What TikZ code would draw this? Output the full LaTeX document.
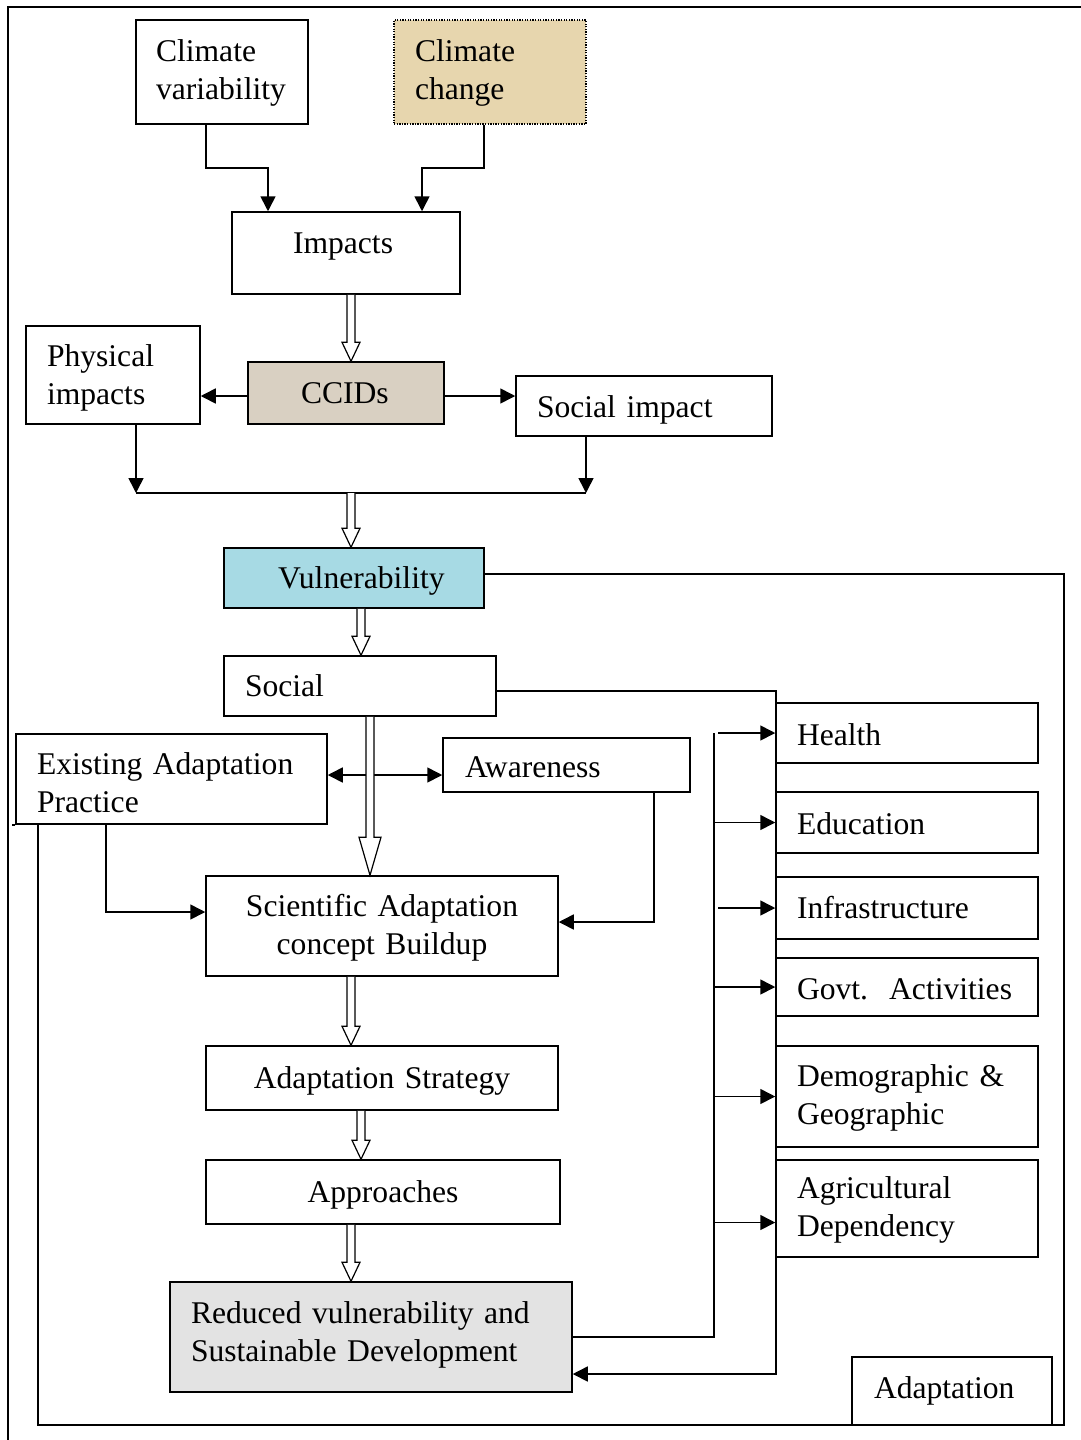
\documentclass[tikz,border=0pt]{standalone}
\usepackage{fontspec}
\setmainfont{Liberation Serif}
\usetikzlibrary{arrows.meta,calc}

\definecolor{changebeige}{HTML}{E7D6AE}
\definecolor{ccidtan}{HTML}{D9D0C2}
\definecolor{vulnblue}{HTML}{A7DAE4}
\definecolor{reducedgray}{HTML}{E3E3E3}

\tikzset{
  frameline/.style={line width=1.5pt},
  box/.style={draw, line width=1.5pt, rectangle, inner ysep=0pt, align=left},
  cbox/.style={draw, line width=1.5pt, rectangle, inner ysep=0pt, align=center},
  bx/.style n args={4}{minimum width=#1pt, minimum height=#2pt, inner xsep=#3pt, text width=#4pt},
  arr/.style={line width=1.6pt, -{Triangle[length=15pt,width=15pt]}},
  dblarr/.style={line width=1.6pt, {Triangle[length=15pt,width=15pt]}-{Triangle[length=15pt,width=15pt]}},
  hollowline/.style={draw, fill=white, line width=1.2pt, line join=miter}
}

% open block arrow pointing down: x, from, to, shaft half width, head half width, head length
\newcommand{\hollowarr}[6]{%
  \draw[hollowline] let \p1=(#2), \p2=(#3) in
    ({#1pt-#4pt},\y1) -- ({#1pt-#4pt},{\y2+#6pt}) -- ({#1pt-#5pt},{\y2+#6pt})
    -- (#1pt,\y2) -- ({#1pt+#5pt},{\y2+#6pt}) -- ({#1pt+#4pt},{\y2+#6pt})
    -- ({#1pt+#4pt},\y1);}

\begin{document}
\begin{tikzpicture}[x=1pt, y=-1pt, font=\fontsize{31.6}{37.5}\selectfont]
\useasboundingbox (0,0) rectangle (1081,1440);

% outer frame
\draw[line width=1.8pt] (8,1440) -- (8,7) -- (1081,7);

% top row
\node[box, bx={172}{104}{20}{132}, text height=24pt] (cv) at (222,72) {Climate\\variability};
\node[box, bx={192}{104}{21}{150}, text height=24pt, fill=changebeige, dash pattern=on 1.3pt off 1.3pt, line width=1.2pt] (cc) at (490,72) {Climate\\change};
\node[box, bx={228}{82}{61}{106}, text depth=20pt] (impacts) at (346,253) {Impacts};

\coordinate (cvA) at (206,168);
\coordinate (cvB) at (268,168);
\coordinate (ccA) at (484,168);
\coordinate (ccB) at (422,168);
\draw[arr] (cv.south -| cvA) -- (cvA) -- (cvB) -- (impacts.north -| cvB);
\draw[arr] (cc.south -| ccA) -- (ccA) -- (ccB) -- (impacts.north -| ccB);

% impacts split
\node[box, bx={196}{62}{53}{90}, fill=ccidtan] (ccids) at (346,393) {CCIDs};
\node[box, bx={174}{98}{21}{132}, text height=28pt] (phys) at (113,375) {Physical\\impacts};
\node[box, bx={256}{60}{21}{214}, text height=30pt] (socimp) at (644,406) {Social impact};

\hollowarr{351}{impacts.south}{ccids.north}{4}{9}{19}
\draw[arr] ([yshift=-3pt]ccids.west) -- ([yshift=-3pt]ccids.west -| phys.east);
\draw[arr] ([yshift=-3pt]ccids.east) -- ([yshift=-3pt]ccids.east -| socimp.west);

\coordinate (jL) at (136,493);
\coordinate (jR) at (586,493);
\draw[arr] (phys.south -| jL) -- (jL);
\draw[arr] (socimp.south -| jR) -- (jR);
\draw[frameline] (jL) -- (jR);

% vulnerability
\node[box, bx={260}{60}{30}{200}, text height=28pt, fill=vulnblue] (vuln) at (354,578) {\hspace*{24pt}Vulnerability};
\hollowarr{351}{jL}{vuln.north}{4}{9}{19}

\node[box, bx={272}{60}{21}{230}] (social) at (360,686) {Social};
\hollowarr{361}{vuln.south}{social.north}{4}{9}{19}

% adaptation frame around the lower part
\coordinate (frSE) at (1064,1425);
\coordinate (frNW) at (38,824);
\draw[frameline] ([yshift=4pt]vuln.east) -| (frSE) -| (frNW);

% social branch
\node[box, bx={311}{90}{21}{269}, text height=29pt] (exist) at (171.5,779) {Existing Adaptation\\Practice};
\node[box, bx={247}{54}{22}{203}, text height=25pt] (aware) at (566.5,765) {Awareness};
\node[cbox, bx={352}{100}{11}{330}, text height=26pt] (sci) at (382,926) {Scientific Adaptation\\concept Buildup};
\draw[frameline] (exist.south west) -- ++(-3,0);

\draw[dblarr] ([yshift=4pt]exist.east) -- ([yshift=4pt]exist.east -| aware.west);
\hollowarr{370}{social.south}{sci.north}{4}{11}{38}

\coordinate (exA) at (106,0);
\coordinate (awA) at (654,0);
\draw[arr] (exist.south -| exA) |- ([yshift=14pt]sci.west);
\draw[arr] (aware.south -| awA) |- ([yshift=4pt]sci.east);

% main chain
\node[cbox, bx={352}{64}{11}{330}, text height=28pt] (strat) at (382,1078) {Adaptation Strategy};
\node[cbox, bx={354}{64}{11}{332}, text height=28pt] (appr) at (383,1192) {Approaches};
\node[box, bx={402}{110}{21}{360}, text height=18pt, fill=reducedgray] (red) at (371,1337) {Reduced vulnerability and\\Sustainable Development};
\hollowarr{351}{sci.south}{strat.north}{4}{9}{19}
\hollowarr{361}{strat.south}{appr.north}{4}{9}{19}
\hollowarr{351}{appr.south}{red.north}{4}{9}{19}

% sectors column
\node[box, bx={262}{60}{21}{220}, text height=26pt] (health) at (907,733) {Health};
\node[box, bx={262}{61}{21}{220}, text height=24pt] (edu) at (907,822.5) {Education};
\node[box, bx={262}{62}{21}{220}] (infra) at (907,908) {Infrastructure};
\node[box, bx={262}{58}{21}{220}, text height=26pt] (govt) at (907,987) {Govt.\ \ Activities};
\node[box, bx={262}{101}{21}{220}, text height=25pt] (demo) at (907,1096.5) {Demographic \&\\Geographic};
\node[box, bx={262}{97}{21}{220}, text height=25pt] (agri) at (907,1208.5) {Agricultural\\Dependency};

% social feed down the sector column back to the outcome
\coordinate (busS) at (776,1374);
\draw[arr] ([yshift=-5pt]social.east) -| (busS) -- ([yshift=-37pt]red.east);

% outcome feed up to the sectors
\coordinate (busR) at (714,733);
\coordinate (busT) at (718,733);
\draw[frameline] (red.east) -| (busR);
\draw[arr] (health.west -| busT) -- (health.west);
\draw[arr] (edu.west -| busR) -- (edu.west);
\draw[arr] (infra.west -| busT) -- (infra.west);
\draw[arr] (govt.west -| busR) -- (govt.west);
\draw[arr] (demo.west -| busR) -- (demo.west);
\draw[arr] ([yshift=-14pt]agri.west -| busR) -- ([yshift=-14pt]agri.west);

\node[box, bx={200}{68}{22}{156}] (adapt) at (952,1391) {Adaptation};
\end{tikzpicture}
\end{document}
